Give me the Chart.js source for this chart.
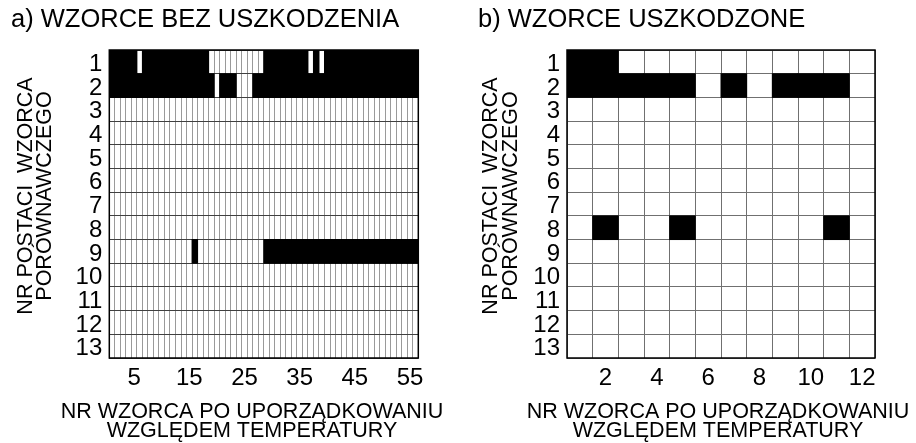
<!DOCTYPE html>
<html>
<head>
<meta charset="utf-8">
<script src="https://cdn.jsdelivr.net/npm/chart.js@4.4.0/dist/chart.umd.min.js"></script>
<style>
  html, body { margin: 0; padding: 0; background: #fff; }
  .wrap { display: flex; width: 916px; height: 443px; }
  canvas { display: block; }
</style>
</head>
<body>
<div class="wrap">
  <canvas id="chartA" width="458" height="443"></canvas>
  <canvas id="chartB" width="458" height="443"></canvas>
</div>
<script>
// column numbers (pattern number after ordering by temperature)
const columnsA = [1,2,3,4,5,6,7,8,9,10,11,12,13,14,15,16,17,18,19,20,21,22,23,24,25,26,27,28,
  29,30,31,32,33,34,35,36,37,38,39,40,41,42,43,44,45,46,47,48,49,50,51,52,53,54,55,56]
const columnsB = [1,2,3,4,5,6,7,8,9,10,11,12]

// row numbers (reference pattern number)
const rowLabels = [1,2,3,4,5,6,7,8,9,10,11,12,13]

// which x tick labels are printed
const tickLabelsA = [5, 15, 25, 35, 45, 55]
const tickLabelsB = [2, 4, 6, 8, 10, 12]

// a) undamaged patterns: 1 = black cell
const aRow1 = [1,1,1,1,1,0,1,1,1,1,1,1,1,1,1,1,1,1,0,0,0,0,0,0,0,0,0,0,
  1,1,1,1,1,1,1,1,0,1,0,1,1,1,1,1,1,1,1,1,1,1,1,1,1,1,1,1]
const aRow2 = [1,1,1,1,1,1,1,1,1,1,1,1,1,1,1,1,1,1,1,0,1,1,1,0,0,0,1,1,
  1,1,1,1,1,1,1,1,1,1,1,1,1,1,1,1,1,1,1,1,1,1,1,1,1,1,1,1]
const aRow9 = [0,0,0,0,0,0,0,0,0,0,0,0,0,0,0,1,0,0,0,0,0,0,0,0,0,0,0,0,
  1,1,1,1,1,1,1,1,1,1,1,1,1,1,1,1,1,1,1,1,1,1,1,1,1,1,1,1]

// b) damaged patterns
const bRow1 = [1,1,0,0,0,0,0,0,0,0,0,0]
const bRow2 = [1,1,1,1,1,0,1,0,1,1,1,0]
const bRow8 = [0,1,0,0,1,0,0,0,0,0,1,0]

const xTitleLines = ["NR WZORCA PO UPORZĄDKOWANIU", "WZGLĘDEM TEMPERATURY"]
const yTitleLines = ["NR POSTACI  WZORCA", "PORÓWNAWCZEGO"]

const FONT = "'Liberation Sans', Arial, Helvetica, sans-serif"
Chart.defaults.font.family = FONT
Chart.defaults.color = "#000"

// black frame round the plot area
const framePlugin = {
    id: "frame",
    afterDatasetsDraw(chart) {
        const { ctx, chartArea } = chart
        ctx.save()
        ctx.strokeStyle = "#000"
        ctx.lineWidth = 1.5
        ctx.strokeRect(chartArea.left, chartArea.top, chartArea.right - chartArea.left, chartArea.bottom - chartArea.top)
        ctx.restore()
    },
}

// axis titles: the x one is wider than the plot (Chart.js would squeeze it),
// and both sit a little off the plot centre in the original, so draw them here
const axisTitlePlugin = {
    id: "axisTitles",
    afterDraw(chart, args, opts) {
        const { ctx } = chart
        ctx.save()
        ctx.fillStyle = "#000"
        ctx.font = "21.5px " + FONT
        ctx.textAlign = "center"
        ctx.textBaseline = "alphabetic"
        xTitleLines.forEach((line, i) => ctx.fillText(line, opts.xTitleX, opts.xTitleY + i * opts.xStep))
        yTitleLines.forEach((line, i) => {
            ctx.save()
            ctx.translate(opts.yTitleX[i], opts.yTitleY)
            ctx.rotate(-Math.PI / 2)
            ctx.fillText(line, 0, 0)
            ctx.restore()
        })
        ctx.restore()
    },
}

function makeChart(id, opts) {
    // one floating-bar dataset per row, bar spans the whole cell
    const datasets = opts.rows.map(([row, cells]) => ({
        label: "row " + row,
        data: cells.map(v => (v ? [row - 0.5, row + 0.5] : null)),
        backgroundColor: "#000",
        borderWidth: 0,
        inflateAmount: 0.5,
        grouped: false,
        barPercentage: 1,
        categoryPercentage: 1,
    }))

    return new Chart(document.getElementById(id), {
        type: "bar",
        data: { labels: opts.columns.map(String), datasets },
        options: {
            responsive: false,
            animation: false,
            devicePixelRatio: 1,
            layout: { padding: { left: opts.padLeft, right: opts.padRight, top: 0, bottom: 0 } },
            plugins: {
                legend: { display: false },
                tooltip: { enabled: false },
                title: {
                    display: true,
                    text: opts.title,
                    align: "start",
                    color: "#000",
                    font: { size: 25.5, weight: "normal", lineHeight: 1.2 },
                    padding: { top: 5, bottom: 14.4 },
                },
                axisTitles: {
                    xTitleX: opts.xTitleX,
                    xTitleY: 418,
                    xStep: 18.7,
                    yTitleX: opts.yTitleX,
                    yTitleY: 196,
                },
            },
            scales: {
                x: {
                    offset: true,
                    grid: { offset: true, color: opts.xGrid, lineWidth: 1, drawTicks: false },
                    border: { display: false },
                    ticks: {
                        autoSkip: false,
                        maxRotation: 0,
                        padding: 6,
                        font: { size: 24 },
                        color: "#000",
                        callback: function (value) {
                            const lab = this.getLabelForValue(value)
                            return opts.tickLabels.includes(Number(lab)) ? lab : ""
                        },
                    },
                    afterFit: scale => { scale.height = 85 },
                },
                y: {
                    type: "linear",
                    reverse: true,
                    min: 0.5,
                    max: 13.5,
                    grid: { offset: true, color: opts.yGrid, lineWidth: 1, drawTicks: false },
                    border: { display: false },
                    afterBuildTicks: scale => { scale.ticks = rowLabels.map(v => ({ value: v })) },
                    ticks: {
                        autoSkip: false,
                        padding: 7,
                        labelOffset: 2.5,
                        font: { size: 24 },
                        color: "#000",
                        callback: v => String(v),
                    },
                    afterFit: scale => { scale.width = opts.plotLeft - opts.padLeft },
                },
            },
        },
        plugins: [framePlugin, axisTitlePlugin],
    })
}

makeChart("chartA", {
    title: "a) WZORCE BEZ USZKODZENIA",
    columns: columnsA,
    tickLabels: tickLabelsA,
    rows: [[1, aRow1], [2, aRow2], [9, aRow9]],
    padLeft: 11,
    padRight: 39.7,
    plotLeft: 109.3,
    xTitleX: 252,
    yTitleX: [31.5, 50.5],
    xGrid: "#9a9a9a",
    yGrid: "#404040",
})

makeChart("chartB", {
    title: "b) WZORCE USZKODZONE",
    columns: columnsB,
    tickLabels: tickLabelsB,
    rows: [[1, bRow1], [2, bRow2], [8, bRow8]],
    padLeft: 20,
    padRight: 41,
    plotLeft: 109,
    xTitleX: 260,
    yTitleX: [38.5, 59],
    xGrid: "#707070",
    yGrid: "#707070",
})
</script>
</body>
</html>
